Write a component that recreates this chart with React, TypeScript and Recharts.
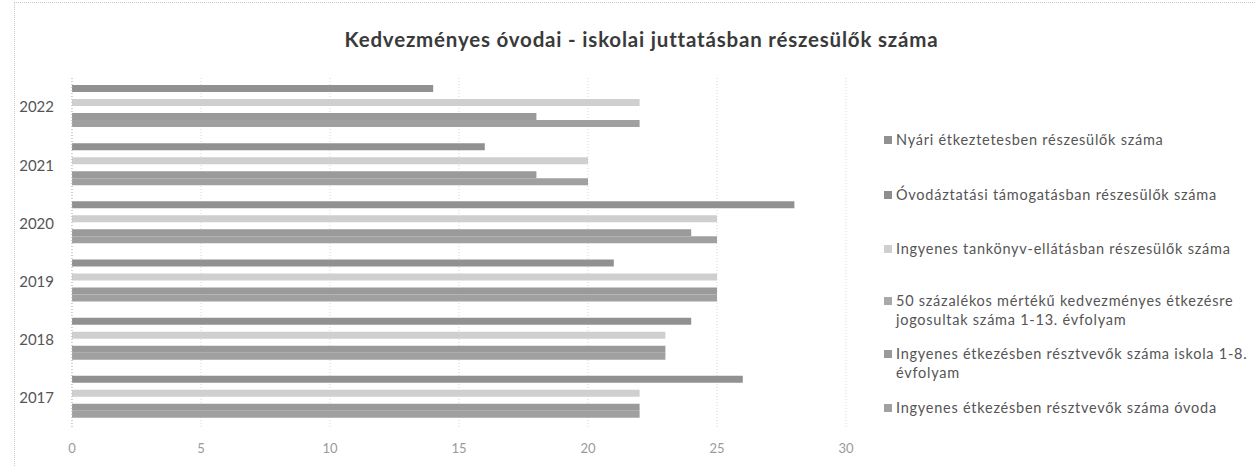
import React from 'react';
import { BarChart, Bar, XAxis, YAxis, CartesianGrid } from 'recharts';

const years = ['2017', '2018', '2019', '2020', '2021', '2022'];
const ovodaEtkezes = [22, 23, 25, 25, 20, 22];
const iskolaEtkezes = [22, 23, 25, 24, 18, 18];
const felaru = [0, 0, 0, 0, 0, 0];
const tankonyv = [22, 23, 25, 25, 20, 22];
const ovodaztatasi = [0, 0, 0, 0, 0, 0];
const nyari = [26, 24, 21, 28, 16, 14];
const xTicks = [0, 5, 10, 15, 20, 25, 30];

const seriesNames = {
  s1: 'Ingyenes étkezésben résztvevők száma óvoda',
  s2: 'Ingyenes étkezésben résztvevők száma iskola 1-8. évfolyam',
  s3: '50 százalékos mértékű kedvezményes étkezésre jogosultak száma 1-13. évfolyam',
  s4: 'Ingyenes tankönyv-ellátásban részesülők száma',
  s5: 'Óvodáztatási támogatásban részesülők száma',
  s6: 'Nyári étkeztetesben részesülők száma',
};

const colors = {
  s1: '#a0a0a0',
  s2: '#9a9a9a',
  s3: '#a8a8a8',
  s4: '#cfcfcf',
  s5: '#8e8e8e',
  s6: '#919191',
};

const data = years.map((y, i) => ({
  year: y,
  s1: ovodaEtkezes[i],
  s2: iskolaEtkezes[i],
  s3: felaru[i],
  s4: tankonyv[i],
  s5: ovodaztatasi[i],
  s6: nyari[i],
}));

const legendItems = [
  { key: 's6', lines: ['Nyári étkeztetesben részesülők száma'], top: 130 },
  { key: 's5', lines: ['Óvodáztatási támogatásban részesülők száma'], top: 185 },
  { key: 's4', lines: ['Ingyenes tankönyv-ellátásban részesülők száma'], top: 239 },
  { key: 's3', lines: ['50 százalékos mértékű kedvezményes étkezésre', 'jogosultak száma 1-13. évfolyam'], top: 291 },
  { key: 's2', lines: ['Ingyenes étkezésben résztvevők száma iskola 1-8.', 'évfolyam'], top: 344 },
  { key: 's1', lines: ['Ingyenes étkezésben résztvevők száma óvoda'], top: 398 },
];

const font = 'Lato, "Open Sans", sans-serif';

function LegendBlock() {
  return (
    <div style={{ position: 'absolute', left: 883, top: 0, width: 374, height: 467 }}>
      {legendItems.map((it) => (
        <div key={it.key} style={{ position: 'absolute', left: 0, top: it.top, fontFamily: font, fontSize: 14.5, letterSpacing: 0.75, color: '#555', lineHeight: '19px', whiteSpace: 'nowrap' }}>
          {it.lines.map((ln, j) => (
            <div key={j} style={{ position: 'relative', paddingLeft: 13 }}>
              {j === 0 && (
                <span style={{ position: 'absolute', left: 1, top: 6, width: 8, height: 8, background: (colors as any)[it.key] }} />
              )}
              {ln}
            </div>
          ))}
        </div>
      ))}
    </div>
  );
}

export default function App() {
  const order = ['s6', 's5', 's4', 's3', 's2', 's1'];
  return (
    <div style={{ position: 'absolute', left: 0, top: 0, width: 1257, height: 467, background: '#fff' }}>
      <div style={{ position: 'absolute', left: 14, top: 2, width: 1240, height: 463, borderTop: '1px dotted #ccc', borderLeft: '1px dotted #ccc' }} />
      <div style={{ position: 'absolute', left: 0, top: 27, width: 1283, textAlign: 'center', fontFamily: font, fontWeight: 700, fontSize: 20.5, letterSpacing: 0.8, color: '#3a3a3a' }}>
        Kedvezményes óvodai - iskolai juttatásban részesülők száma
      </div>
      <BarChart
        width={1257}
        height={467}
        data={data}
        layout="vertical"
        margin={{ top: 78, right: 411, bottom: 10, left: 0 }}
        barCategoryGap="12%"
        barGap={0}
        style={{ position: 'absolute', left: 0, top: 0 }}
      >
        <CartesianGrid horizontal={false} vertical={true} stroke="#d8d8d8" strokeDasharray="1 2" />
        <XAxis
          type="number"
          domain={[0, 30]}
          ticks={xTicks}
          axisLine={false}
          tickLine={false}
          tickSize={0}
          tickMargin={17}
          height={30}
          tick={{ fill: '#9a9a9a', fontSize: 13, fontFamily: font }}
        />
        <YAxis
          type="category"
          dataKey="year"
          reversed
          width={72}
          axisLine={{ stroke: '#bbb', strokeDasharray: '1 2' }}
          tickLine={false}
          tickSize={0}
          tickMargin={18}
          tick={{ fill: '#555', fontSize: 15, fontFamily: font }}
        />
        {order.map((k) => (
          <Bar key={k} dataKey={k} name={(seriesNames as any)[k]} fill={(colors as any)[k]} isAnimationActive={false} />
        ))}
      </BarChart>
      <LegendBlock />
    </div>
  );
}
